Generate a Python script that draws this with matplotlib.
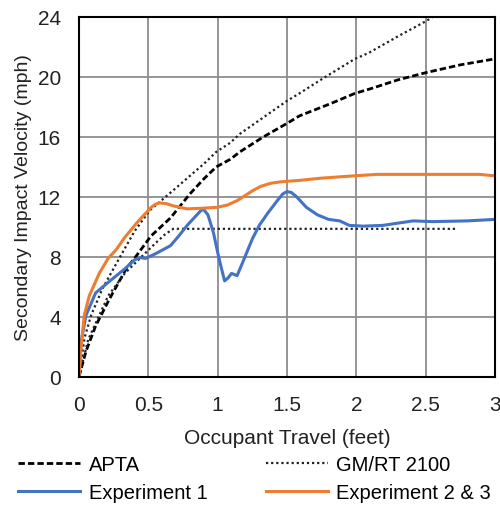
import matplotlib.pyplot as plt
import numpy as np

plt.rcParams['font.family'] = ['Liberation Sans', 'DejaVu Sans']

# APTA curve
apta_x = [0, 0.05, 0.12, 0.22, 0.34, 0.40, 0.52, 0.66, 0.80, 0.90, 0.99, 1.09, 1.16, 1.33,
          1.50, 1.59, 1.70, 1.81, 1.99, 2.10, 2.30, 2.51, 2.75, 3.0]
apta_v = [0, 1.7, 3.4, 5.2, 7.2, 7.9, 9.4, 10.6, 12.2, 13.2, 14.0, 14.5, 15.0, 16.0,
          16.9, 17.4, 17.8, 18.2, 18.9, 19.2, 19.8, 20.3, 20.8, 21.2]

# GM/RT 2100 - upper curve and lower (plateau) curve
gm_x = [0, 0.04, 0.087, 0.17, 0.29, 0.40, 0.51, 0.58, 0.70, 0.80, 0.90, 0.99, 1.09, 1.16,
        1.33, 1.50, 1.59, 1.76, 1.99, 2.09, 2.30, 2.51, 2.55]
gm_v = [0, 2.6, 4.1, 5.9, 7.9, 9.7, 11.1, 11.65, 12.6, 13.4, 14.2, 15.0, 15.6, 16.2,
        17.3, 18.4, 18.9, 19.9, 21.2, 21.6, 22.7, 23.75, 24.0]
gm2_x = [0, 0.067, 0.21, 0.33, 0.45, 0.55, 0.62, 0.68, 1.0, 2.0, 2.72]
gm2_v = [0, 2.5, 5.4, 6.9, 8.0, 8.9, 9.5, 9.87, 9.87, 9.87, 9.87]

# Experiment 1
exp1_x = [0, 0.015, 0.05, 0.12, 0.21, 0.33, 0.40, 0.44, 0.48, 0.55, 0.66, 0.72, 0.78, 0.84,
          0.88, 0.90, 0.93, 0.97, 1.00, 1.02, 1.05, 1.075, 1.10, 1.14, 1.17, 1.21, 1.25,
          1.30, 1.36, 1.43, 1.47, 1.50, 1.53, 1.57, 1.64, 1.72, 1.80, 1.88, 1.95, 2.05,
          2.19, 2.30, 2.41, 2.55, 2.80, 3.0]
exp1_v = [0, 2.3, 4.1, 5.6, 6.3, 7.2, 7.8, 7.95, 7.9, 8.2, 8.75, 9.4, 10.1, 10.7,
          11.1, 11.15, 10.8, 9.6, 8.3, 7.5, 6.4, 6.6, 6.9, 6.75, 7.4, 8.3, 9.2,
          10.1, 10.9, 11.75, 12.2, 12.35, 12.3, 12.0, 11.3, 10.8, 10.5, 10.4, 10.1, 10.05,
          10.1, 10.25, 10.4, 10.35, 10.4, 10.5]

# Experiment 2 & 3
exp23_x = [0, 0.015, 0.038, 0.074, 0.146, 0.21, 0.27, 0.33, 0.42, 0.48, 0.52, 0.55, 0.58,
           0.63, 0.68, 0.78, 0.90, 0.99, 1.07, 1.14, 1.20, 1.25, 1.31, 1.38, 1.45, 1.59,
           1.75, 1.98, 2.15, 2.5, 2.89, 3.0]
exp23_v = [0, 2.0, 4.1, 5.4, 6.9, 7.9, 8.5, 9.3, 10.3, 10.9, 11.3, 11.5, 11.6,
           11.55, 11.4, 11.2, 11.25, 11.3, 11.45, 11.75, 12.1, 12.4, 12.7, 12.9, 13.0, 13.1,
           13.25, 13.4, 13.5, 13.5, 13.5, 13.4]

fig = plt.figure(figsize=(5, 5.1), dpi=100)
ax = fig.add_axes([0.158, 0.259, 0.832, 0.706])

l1, = ax.plot(apta_x, apta_v, color='black', lw=2, ls=(0, (2.3, 1.1)), label='APTA')
l2, = ax.plot(gm_x, gm_v, color='#222222', lw=1.6, ls=(0, (1, 1.3)), label='GM/RT 2100')
ax.plot(gm2_x, gm2_v, color='#222222', lw=1.6, ls=(0, (1, 1.3)))
l3, = ax.plot(exp1_x, exp1_v, color='#4472C4', lw=2.2, solid_joinstyle='round',
              label='Experiment 1')
l4, = ax.plot(exp23_x, exp23_v, color='#ED7D31', lw=2.2, solid_joinstyle='round',
              label='Experiment 2 & 3')

ax.set_xlim(0, 3)
ax.set_ylim(0, 24)
ax.set_xticks([0, 0.5, 1, 1.5, 2, 2.5, 3])
ax.set_xticklabels(['0', '0.5', '1', '1.5', '2', '2.5', '3'])
ax.set_yticks(np.arange(0, 25, 4))
ax.grid(True, color='#8c8c8c', lw=1.3)
ax.set_axisbelow(True)
ax.tick_params(length=0, labelsize=15, pad=13, colors='#222222')
for s in ax.spines.values():
    s.set_linewidth(1.5)
    s.set_color('black')

ax.set_xlabel('Occupant Travel (feet)', fontsize=15, color='#222222', labelpad=10)
ax.set_ylabel('Secondary Impact Velocity (mph)', fontsize=14, color='#222222', labelpad=4)

fig.legend(handles=[l1, l3, l2, l4], ncol=2, loc='lower left', bbox_to_anchor=(0.02, -0.003),
           frameon=False, fontsize=14.5, handlelength=3.1, columnspacing=2.9,
           labelspacing=0.45, handletextpad=0.4, borderaxespad=0.0)

fig.savefig('out.png', dpi=100)
